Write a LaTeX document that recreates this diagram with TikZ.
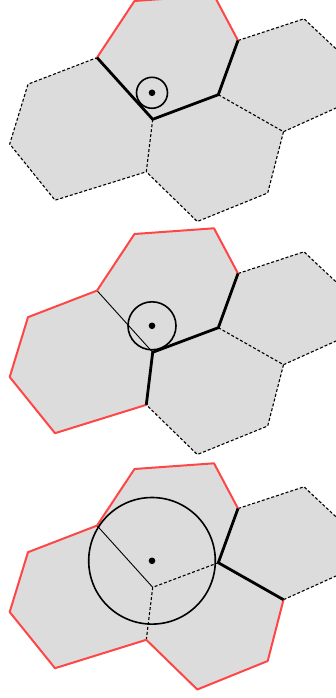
\documentclass[tikz,border=0pt]{standalone}
\usepackage{tikz}
\definecolor{cellgray}{RGB}{220,220,220}
\definecolor{edgered}{RGB}{255,70,70}
\tikzset{
  cellfill/.style={fill=cellgray,draw=none},
  dashedge/.style={draw=black,line width=1.1pt,dash pattern=on 3pt off 2pt},
  thinedge/.style={draw=black,line width=0.9pt},
  rededge/.style={draw=edgered,line width=2pt,line join=round,line cap=round},
  thickedge/.style={draw=black,line width=2.8pt,line join=round},
  ring/.style={draw=black,line width=1.6pt},
  site/.style={fill=black},
}
\newcommand{\defcellpts}{%
  \coordinate (At1) at (134.5,-1);
  \coordinate (At2) at (214,4.7);
  \coordinate (Ar) at (238,-40.5);
  \coordinate (H2) at (218.3,-94.7);
  \coordinate (H1) at (152.7,-119.3);
  \coordinate (Al) at (97,-57.6);
  \coordinate (Bt) at (28,-84.2);
  \coordinate (Bl) at (9.7,-144);
  \coordinate (Bb) at (55,-200.2);
  \coordinate (H3) at (146.3,-171.8);
  \coordinate (Cr) at (283.5,-131.7);
  \coordinate (Cbr) at (267.7,-193);
  \coordinate (Cb) at (197.3,-221.5);
  \coordinate (Dt) at (304,-18.8);
  \coordinate (Dur) at (350,-62);
  \coordinate (Ddr) at (360,-97.2);
  \coordinate (S) at (152,-92.8);
  \fill[cellfill] (Al)--(At1)--(At2)--(Ar)--(H2)--(H1)--cycle;
  \fill[cellfill] (Al)--(H1)--(H3)--(Bb)--(Bl)--(Bt)--cycle;
  \fill[cellfill] (H1)--(H2)--(Cr)--(Cbr)--(Cb)--(H3)--cycle;
  \fill[cellfill] (H2)--(Ar)--(Dt)--(Dur)--(Ddr)--(Cr)--cycle;
}
\begin{document}
\begin{tikzpicture}[x=1pt,y=1pt]
\useasboundingbox (0,0) rectangle (336,-698);
\clip (0,0) rectangle (336,-698);
% panel 1
\begin{scope}
  \defcellpts
  \draw[dashedge] (H1)--(H3)--(Bb)--(Bl)--(Bt)--(Al);
  \draw[dashedge] (H2)--(Cr)--(Cbr)--(Cb)--(H3);
  \draw[dashedge] (Ar)--(Dt)--(Dur)--(Ddr)--(Cr);
  \draw[rededge] (Al)--(At1)--(At2)--(Ar);
  \draw[thickedge] (Ar)--(H2)--(H1)--(Al);
  \draw[ring] (S) circle[radius=15.5];
  \fill[site] (S) circle[radius=3.3];
\end{scope}
% panel 2
\begin{scope}[yshift=-233pt]
  \defcellpts
  \draw[dashedge] (H2)--(Cr)--(Cbr)--(Cb)--(H3);
  \draw[dashedge] (Ar)--(Dt)--(Dur)--(Ddr)--(Cr);
  \draw[thinedge] (Al)--(H1);
  \draw[rededge] (Ar)--(At2)--(At1)--(Al)--(Bt)--(Bl)--(Bb)--(H3);
  \draw[thickedge] (Ar)--(H2)--(H1)--(H3);
  \draw[ring] (S) circle[radius=24];
  \fill[site] (S) circle[radius=3.3];
\end{scope}
% panel 3
\begin{scope}[yshift=-468pt]
  \defcellpts
  \draw[dashedge] (H2)--(H1)--(H3);
  \draw[dashedge] (Ar)--(Dt)--(Dur)--(Ddr)--(Cr);
  \draw[thinedge] (Al)--(H1);
  \draw[rededge] (Ar)--(At2)--(At1)--(Al)--(Bt)--(Bl)--(Bb)--(H3)--(Cb)--(Cbr)--(Cr);
  \draw[thickedge] (Ar)--(H2)--(Cr);
  \draw[ring] (S) circle[radius=63.3];
  \fill[site] (S) circle[radius=3.3];
\end{scope}
\end{tikzpicture}
\end{document}
